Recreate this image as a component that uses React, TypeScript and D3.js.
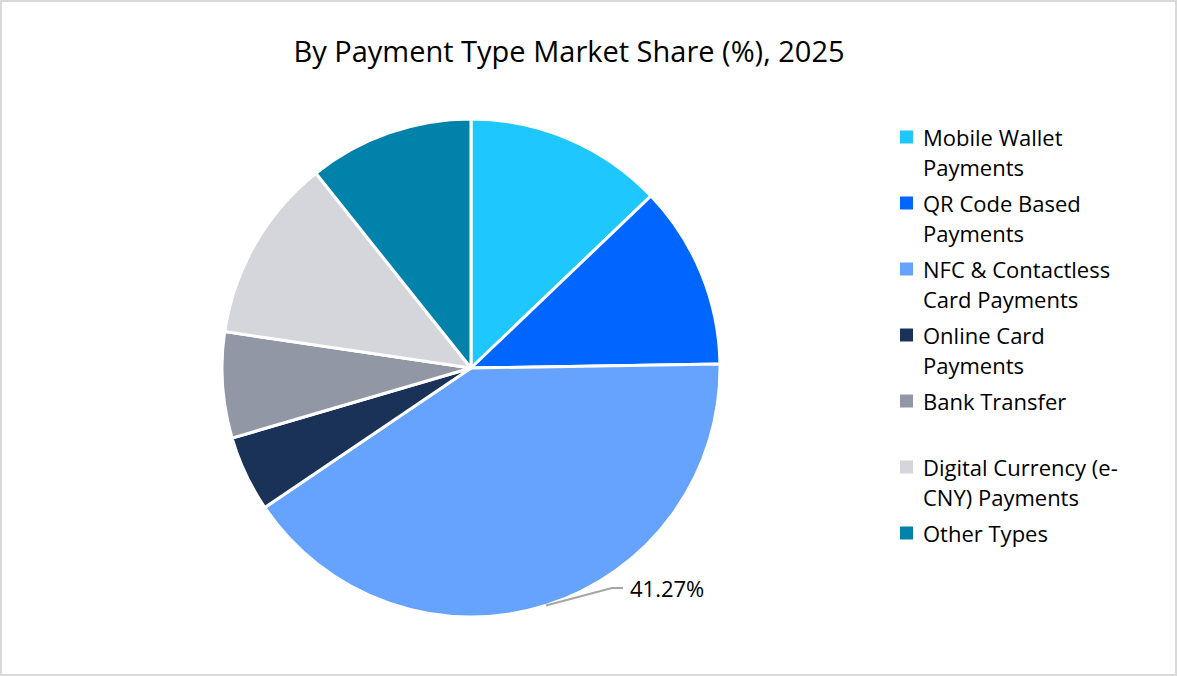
import { useEffect, useRef } from "react";
import * as d3 from "d3";

const categories = [
  "Mobile Wallet Payments",
  "QR Code Based Payments",
  "NFC & Contactless Card Payments",
  "Online Card Payments",
  "Bank Transfer",
  "Digital Currency (e-CNY) Payments",
  "Other Types",
];
const shares = [13.01, 12.02, 41.27, 4.99, 6.96, 12.1, 10.83];
const colors = ["#1ec8ff", "#0066ff", "#66a3ff", "#1b3258", "#9197a5", "#d4d6db", "#0082ab"];
const legendLines = [
  ["Mobile Wallet", "Payments"],
  ["QR Code Based", "Payments"],
  ["NFC & Contactless", "Card Payments"],
  ["Online Card", "Payments"],
  ["Bank Transfer"],
  ["Digital Currency (e-", "CNY) Payments"],
  ["Other Types"],
];
const legendRows = [0, 2.2, 4.4, 6.6, 8.8, 11, 13.2];
const labelled = 2; // only NFC carries a data label

const width = 1177;
const height = 676;
const fontFamily = "'Open Sans', 'Noto Sans', sans-serif";

const App = () => {
  const svgRef = useRef<SVGSVGElement | null>(null);

  useEffect(() => {
    const svg = d3.select(svgRef.current);
    svg.selectAll("*").remove();

    svg
      .append("rect")
      .attr("x", 1)
      .attr("y", 1)
      .attr("width", width - 2)
      .attr("height", height - 2)
      .attr("fill", "#fff")
      .attr("stroke", "#d9d9d9")
      .attr("stroke-width", 2);

    svg
      .append("text")
      .attr("x", 569)
      .attr("y", 62)
      .attr("text-anchor", "middle")
      .style("font-family", fontFamily)
      .style("font-size", "29px")
      .attr("fill", "#000")
      .text("By Payment Type Market Share (%), 2025");

    const radius = 249;
    const pie = d3
      .pie<number>()
      .sort(null)
      .value((d) => d);
    const arc = d3.arc<d3.PieArcDatum<number>>().innerRadius(0).outerRadius(radius);
    const edge = d3.arc<d3.PieArcDatum<number>>().innerRadius(radius).outerRadius(radius);

    const g = svg.append("g").attr("transform", "translate(471,368)");
    const slices = pie(shares);

    g.selectAll("path")
      .data(slices)
      .enter()
      .append("path")
      .attr("d", arc)
      .attr("fill", (_, i) => colors[i])
      .attr("stroke", "#fff")
      .attr("stroke-width", 3)
      .attr("stroke-linejoin", "round");

    // leader line for the one data label
    const [ex, ey] = edge.centroid(slices[labelled]);
    const line = d3.line();
    g.append("path")
      .attr("d", line([[ex, ey], [141, 220], [152, 220]]))
      .attr("fill", "none")
      .attr("stroke", "#a6a6a6")
      .attr("stroke-width", 2);
    g.append("text")
      .attr("x", 159)
      .attr("y", 229)
      .style("font-family", fontFamily)
      .style("font-size", "22px")
      .attr("fill", "#000")
      .text(shares[labelled].toFixed(2) + "%");

    const rowY = d3.scaleLinear().domain([0, 1]).range([137, 167]);
    const legend = svg
      .selectAll(".legend")
      .data(categories)
      .enter()
      .append("g")
      .attr("class", "legend")
      .attr("transform", (_, i) => `translate(900,${rowY(legendRows[i])})`);

    legend
      .append("rect")
      .attr("x", 0)
      .attr("y", -6.5)
      .attr("width", 13)
      .attr("height", 13)
      .attr("fill", (_, i) => colors[i]);

    legend.each(function (_, i) {
      const text = d3.select(this);
      legendLines[i].forEach((s, j) => {
        text
          .append("text")
          .attr("x", 23)
          .attr("y", 9 + j * 30)
          .style("font-family", fontFamily)
          .style("font-size", "22px")
          .attr("fill", "#000")
          .text(s);
      });
    });
  }, []);

  return (
    <svg
      ref={svgRef}
      width={width}
      height={height}
      style={{ position: "absolute", left: 0, top: 0 }}
    />
  );
};

export default App;
